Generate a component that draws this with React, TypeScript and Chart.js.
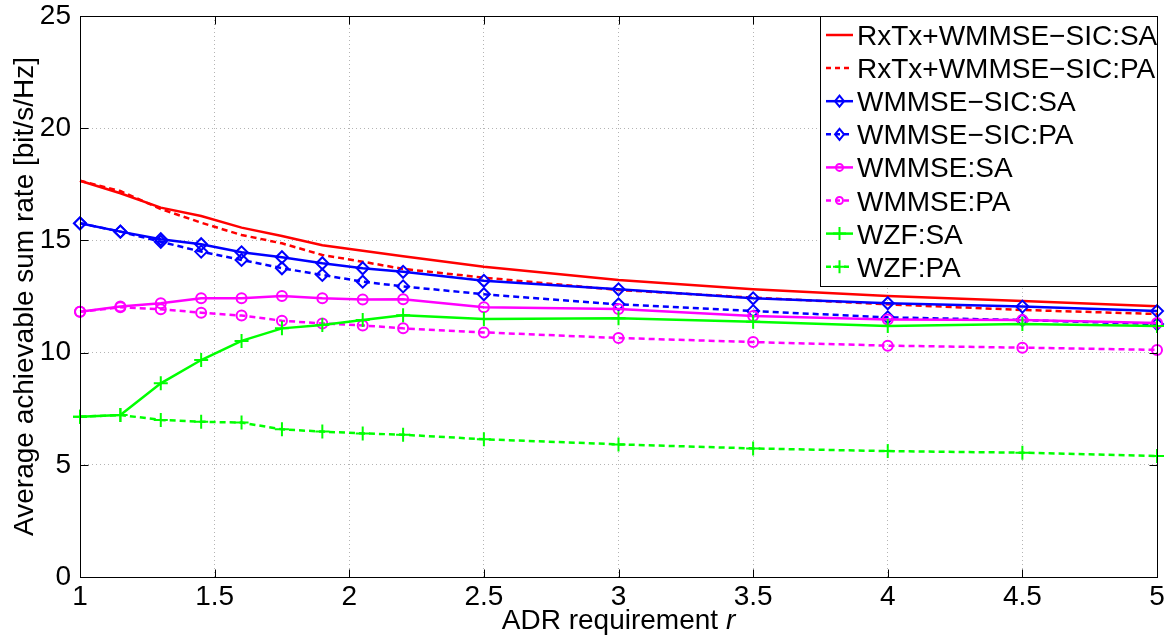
import React, { useEffect, useRef } from "react";
import { Chart, registerables } from "chart.js";

Chart.register(...registerables);

const xValues = [1, 1.15, 1.3, 1.45, 1.6, 1.75, 1.9, 2.05, 2.2, 2.5, 3, 3.5, 4, 4.5, 5];

const rxtxSA = [17.66, 17.1, 16.46, 16.09, 15.57, 15.2, 14.78, 14.54, 14.29, 13.83, 13.24, 12.82, 12.52, 12.3, 12.06];
const rxtxPA = [17.66, 17.2, 16.4, 15.79, 15.24, 14.87, 14.35, 14.05, 13.73, 13.34, 12.79, 12.45, 12.15, 11.9, 11.72];
const wsicSA = [15.76, 15.39, 15.05, 14.83, 14.47, 14.25, 13.98, 13.76, 13.6, 13.2, 12.82, 12.42, 12.2, 12.05, 11.85];
const wsicPA = [15.76, 15.39, 14.94, 14.5, 14.13, 13.76, 13.46, 13.16, 12.95, 12.6, 12.15, 11.85, 11.57, 11.45, 11.27];
const wmSA = [11.82, 12.05, 12.2, 12.42, 12.42, 12.52, 12.42, 12.37, 12.38, 12.02, 11.94, 11.63, 11.48, 11.45, 11.32];
const wmPA = [11.82, 12.02, 11.93, 11.78, 11.65, 11.42, 11.3, 11.21, 11.08, 10.9, 10.65, 10.47, 10.31, 10.22, 10.12];
const wzfSA = [7.14, 7.22, 8.63, 9.67, 10.52, 11.08, 11.23, 11.45, 11.66, 11.5, 11.53, 11.38, 11.19, 11.27, 11.19];
const wzfPA = [7.14, 7.22, 7.0, 6.92, 6.88, 6.58, 6.48, 6.4, 6.34, 6.14, 5.91, 5.73, 5.61, 5.54, 5.39];

const seriesLabels = [
  "RxTx+WMMSE\u2212SIC:SA",
  "RxTx+WMMSE\u2212SIC:PA",
  "WMMSE\u2212SIC:SA",
  "WMMSE\u2212SIC:PA",
  "WMMSE:SA",
  "WMMSE:PA",
  "WZF:SA",
  "WZF:PA",
];

const xTicks = [1, 1.5, 2, 2.5, 3, 3.5, 4, 4.5, 5];
const yTicks = [0, 5, 10, 15, 20, 25];

const yTitle = "Average achievable sum rate [bit/s/Hz]";
const xTitleMain = "ADR requirement ";
const xTitleVar = "r";

const FONT = "'Liberation Sans', Arial, Helvetica, sans-serif";

export default function App() {
  const ref = useRef<HTMLCanvasElement>(null);

  useEffect(() => {
    document.body.style.margin = "0";
    const canvas = ref.current;
    if (!canvas) return;

    const values = [rxtxSA, rxtxPA, wsicSA, wsicPA, wmSA, wmPA, wzfSA, wzfPA];
    const colors = ["#ff0000", "#ff0000", "#0000ff", "#0000ff", "#ff00ff", "#ff00ff", "#00ff00", "#00ff00"];
    const dashed = [false, true, false, true, false, true, false, true];
    const styles: any[] = [null, null, "rectRot", "rectRot", "circle", "circle", "cross", "cross"];
    const radii = [0, 0, 6, 6, 5, 5, 7, 7];
    const DASH = [6, 4];

    const datasets = values.map((vals, i) => ({
      label: seriesLabels[i],
      data: xValues.map((x, j) => ({ x, y: vals[j] })),
      borderColor: colors[i],
      backgroundColor: "rgba(0,0,0,0)",
      borderWidth: 2.5,
      borderDash: dashed[i] ? DASH : [],
      pointStyle: styles[i] || "circle",
      pointRadius: radii[i],
      pointHoverRadius: radii[i],
      pointBorderColor: colors[i],
      pointBackgroundColor: "rgba(0,0,0,0)",
      pointBorderWidth: 2,
      tension: 0,
      clip: false as any,
      order: values.length - i,
    }));

    const framePlugin = {
      id: "frame",
      afterDraw(chart: any) {
        const { ctx, chartArea: a, scales } = chart;
        ctx.save();
        ctx.strokeStyle = "#000";
        ctx.lineWidth = 1;
        const L = Math.round(a.left) + 0.5;
        const R = Math.round(a.right) + 0.5;
        const T = Math.round(a.top) + 0.5;
        const B = Math.round(a.bottom) + 0.5;
        const tl = 8;
        ctx.beginPath();
        for (const t of yTicks) {
          const y = Math.round(scales.y.getPixelForValue(t)) + 0.5;
          ctx.moveTo(L, y);
          ctx.lineTo(L + tl, y);
          ctx.moveTo(R, y);
          ctx.lineTo(R - tl, y);
        }
        for (const t of xTicks) {
          const x = Math.round(scales.x.getPixelForValue(t)) + 0.5;
          ctx.moveTo(x, B);
          ctx.lineTo(x, B - tl);
          ctx.moveTo(x, T);
          ctx.lineTo(x, T + tl);
        }
        ctx.stroke();
        ctx.strokeRect(L, T, R - L, B - T);

        // Legend
        const lx = 820.5;
        const ly = T;
        const lw = R - lx;
        const lh = 270;
        ctx.fillStyle = "#fff";
        ctx.fillRect(lx, ly, lw, lh);
        ctx.strokeRect(lx, ly, lw, lh);
        ctx.font = `28px ${FONT}`;
        ctx.textBaseline = "alphabetic";
        ctx.textAlign = "left";
        for (let i = 0; i < seriesLabels.length; i++) {
          const base = 45 + 33.1 * i;
          const cy = base - 10;
          ctx.save();
          ctx.strokeStyle = colors[i];
          ctx.lineWidth = 2.5;
          ctx.setLineDash(dashed[i] ? [5, 4] : []);
          ctx.beginPath();
          ctx.moveTo(826, cy);
          ctx.lineTo(853, cy);
          ctx.stroke();
          ctx.setLineDash([]);
          if (styles[i]) {
            ctx.lineWidth = 2;
            const cx = 839.5;
            const r = radii[i] - 1.5;
            ctx.beginPath();
            if (styles[i] === "rectRot") {
              ctx.moveTo(cx - r, cy);
              ctx.lineTo(cx, cy - r - 1);
              ctx.lineTo(cx + r, cy);
              ctx.lineTo(cx, cy + r + 1);
              ctx.closePath();
            } else if (styles[i] === "circle") {
              ctx.arc(cx, cy, r, 0, Math.PI * 2);
            } else {
              ctx.moveTo(cx - r - 1, cy);
              ctx.lineTo(cx + r + 1, cy);
              ctx.moveTo(cx, cy - r - 1);
              ctx.lineTo(cx, cy + r + 1);
            }
            ctx.stroke();
          }
          ctx.restore();
          ctx.fillStyle = "#000";
          ctx.fillText(seriesLabels[i], 857, base);
        }

        // Axis titles
        ctx.fillStyle = "#000";
        ctx.font = `28px ${FONT}`;
        const w1 = ctx.measureText(xTitleMain).width;
        ctx.font = `italic 28px ${FONT}`;
        const w2 = ctx.measureText(xTitleVar).width;
        const cxT = (a.left + a.right) / 2;
        const sx = cxT - (w1 + w2) / 2;
        ctx.textAlign = "left";
        ctx.textBaseline = "alphabetic";
        ctx.font = `28px ${FONT}`;
        ctx.fillText(xTitleMain, sx, 629);
        ctx.font = `italic 28px ${FONT}`;
        ctx.fillText(xTitleVar, sx + w1, 629);

        ctx.save();
        ctx.translate(25, (a.top + a.bottom) / 2);
        ctx.rotate(-Math.PI / 2);
        ctx.font = `28px ${FONT}`;
        ctx.textAlign = "center";
        ctx.textBaseline = "middle";
        ctx.fillText(yTitle, 0, 0);
        ctx.restore();

        ctx.restore();
      },
    };

    const chart = new Chart(canvas, {
      type: "line",
      data: { datasets: datasets as any },
      options: {
        animation: false,
        responsive: false,
        maintainAspectRatio: false,
        layout: { padding: { top: 16, right: 14, left: 0, bottom: 0 } },
        plugins: { legend: { display: false }, tooltip: { enabled: false } },
        scales: {
          x: {
            type: "linear",
            min: 1,
            max: 5,
            afterFit: (s: any) => {
              s.height = 62;
              s.paddingLeft = 0;
              s.paddingRight = 0;
            },
            afterBuildTicks: (s: any) => {
              s.ticks = xTicks.map((v) => ({ value: v }));
            },
            ticks: {
              autoSkip: false,
              maxRotation: 0,
              padding: 3,
              color: "#000",
              font: { family: FONT, size: 28 },
              callback: (v: any) => String(v),
            },
            grid: { color: "#b4b4b4", lineWidth: 1, drawTicks: false },
            border: { display: false, dash: [1, 3] },
          },
          y: {
            type: "linear",
            min: 0,
            max: 25,
            afterFit: (s: any) => {
              s.width = 80;
              s.paddingTop = 0;
              s.paddingBottom = 0;
            },
            afterBuildTicks: (s: any) => {
              s.ticks = yTicks.map((v) => ({ value: v }));
            },
            ticks: {
              autoSkip: false,
              padding: 9,
              color: "#000",
              font: { family: FONT, size: 28 },
              callback: (v: any) => String(v),
            },
            grid: { color: "#b4b4b4", lineWidth: 1, drawTicks: false },
            border: { display: false, dash: [1, 3] },
          },
        },
      },
      plugins: [framePlugin],
    });

    return () => chart.destroy();
  }, []);

  return (
    <div style={{ width: 1171, height: 639, background: "#fff" }}>
      <canvas ref={ref} width={1171} height={639} style={{ display: "block" }} />
    </div>
  );
}
